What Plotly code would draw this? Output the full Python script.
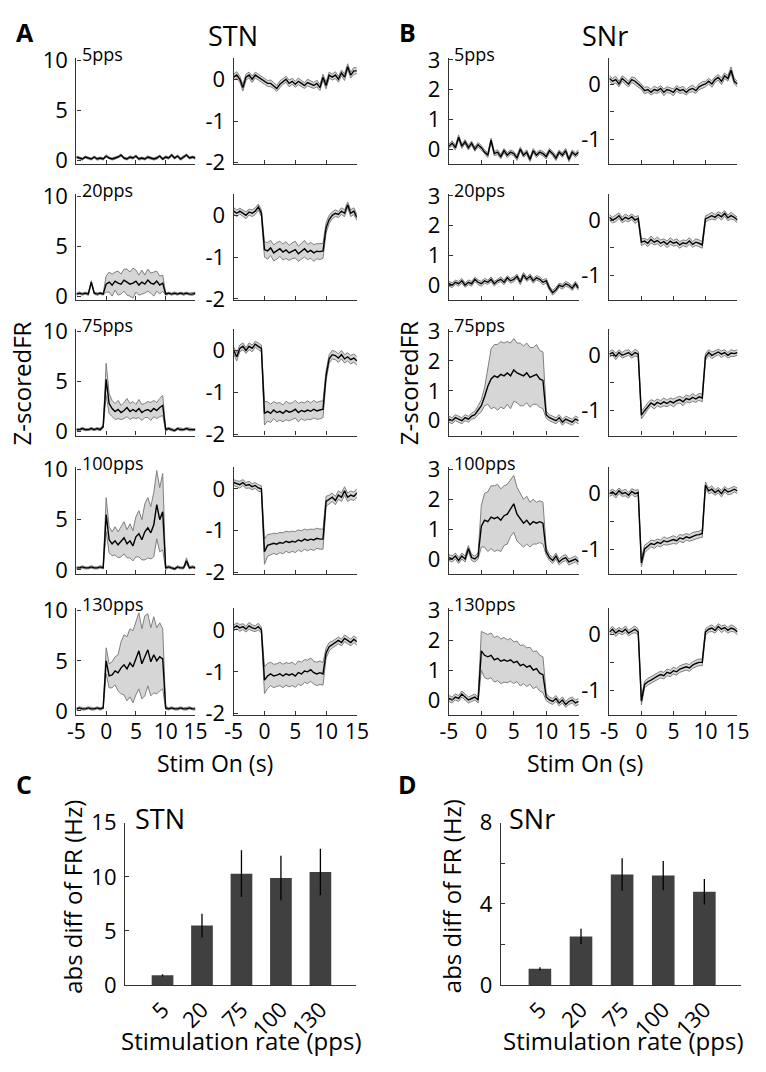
import plotly.graph_objects as go

# ---------------- data ----------------
TIME_S = [-5.0, -4.5, -4.0, -3.5, -3.0, -2.5, -2.0, -1.5, -1.0, -0.5,
          0.0, 0.5, 1.0, 1.5, 2.0, 2.5, 3.0, 3.5, 4.0, 4.5,
          5.0, 5.5, 6.0, 6.5, 7.0, 7.5, 8.0, 8.5, 9.0, 9.5,
          10.0, 10.5, 11.0, 11.5, 12.0, 12.5, 13.0, 13.5, 14.0, 14.5, 15.0]
RATES = ["5pps", "20pps", "75pps", "100pps", "130pps"]

# STN, neurons with increased rate (left column of A)
STN_UP_5 = [0.3,0.2,0.1,0.3,0.2,0.1,0.3,0.1,0.2,0.1,
            0.4,0.2,0.1,0.2,0.3,0.5,0.2,0.1,0.3,0.2,0.4,0.1,0.2,0.1,0.3,0.2,0.1,0.2,0.4,0.1,
            0.3,0.2,0.5,0.2,0.4,0.1,0.3,0.5,0.2,0.3,0.2]
STN_UP_5_SEM = [0.1,0.12,0.1,0.1,0.12,0.1,0.1,0.12,0.1,0.1,
                0.12,0.1,0.1,0.12,0.1,0.12,0.1,0.1,0.12,0.1,0.1,0.12,0.1,0.1,0.12,0.1,0.1,0.12,0.1,0.1,
                0.12,0.1,0.12,0.1,0.1,0.12,0.1,0.12,0.1,0.1,0.12]
STN_UP_20 = [0.2,0.3,0.2,0.3,0.2,1.4,0.3,0.2,0.3,0.2,
             1.2,1.4,1.1,1.5,1.3,1.2,1.6,1.4,1.2,1.3,1.5,1.1,1.4,1.2,1.6,1.3,1.2,1.5,1.1,1.3,
             0.2,0.3,0.2,0.3,0.2,0.3,0.2,0.3,0.2,0.2,0.3]
STN_UP_20_SEM = [0.1,0.12,0.1,0.1,0.12,0.15,0.1,0.12,0.1,0.1,
                 0.8,1.0,1.1,0.9,1.2,1.0,1.1,1.3,1.2,1.5,1.1,1.0,1.2,0.9,1.1,1.0,1.2,1.0,0.9,0.8,
                 0.12,0.1,0.1,0.12,0.1,0.1,0.12,0.1,0.1,0.12,0.1]
STN_UP_75 = [0.2,0.2,0.3,0.2,0.2,0.3,0.2,0.3,0.2,0.5,
             5.2,2.8,2.3,2.0,2.2,1.9,2.1,2.4,2.0,2.2,2.0,2.3,1.9,2.1,2.2,2.0,2.3,2.1,2.4,2.6,
             0.2,0.3,0.2,0.1,0.3,0.2,0.2,0.3,0.2,0.2,0.2]
STN_UP_75_SEM = [0.1,0.1,0.12,0.1,0.1,0.12,0.1,0.1,0.12,0.15,
                 1.6,1.0,0.8,0.8,0.9,0.7,0.8,0.9,0.8,0.8,0.7,0.9,0.8,0.7,0.8,0.9,0.8,0.8,0.9,1.0,
                 0.15,0.1,0.12,0.1,0.1,0.12,0.1,0.1,0.12,0.1,0.1]
STN_UP_100 = [0.2,0.2,0.3,0.2,0.2,0.3,0.2,0.2,0.3,0.2,
              5.5,3.0,2.6,2.9,2.5,2.8,3.2,2.6,2.9,2.4,3.3,3.6,3.0,3.8,4.2,3.7,4.5,6.5,5.0,5.8,
              0.2,0.3,0.2,0.1,0.3,0.2,0.2,0.9,0.2,0.3,0.2]
STN_UP_100_SEM = [0.1,0.1,0.12,0.1,0.1,0.12,0.1,0.1,0.12,0.1,
                  1.7,1.3,1.2,1.4,1.3,1.5,1.6,1.4,1.7,1.5,2.0,2.3,2.0,2.8,3.0,2.6,3.2,3.4,3.2,3.8,
                  0.15,0.12,0.1,0.1,0.12,0.1,0.1,0.3,0.1,0.12,0.1]
STN_UP_130 = [0.2,0.3,0.2,0.2,0.3,0.2,0.2,0.3,0.2,0.3,
              5.0,3.5,3.6,4.0,3.8,4.3,4.6,4.2,4.8,4.4,5.2,6.0,4.7,5.5,6.1,4.9,5.6,5.0,5.4,5.2,
              0.3,0.2,0.3,0.2,0.2,0.3,0.2,0.2,0.3,0.2,0.2]
STN_UP_130_SEM = [0.1,0.1,0.12,0.1,0.1,0.12,0.1,0.1,0.12,0.1,
                  1.3,1.2,1.3,1.4,1.8,2.6,3.0,3.2,3.4,3.6,3.6,3.8,3.5,4.0,3.6,3.4,3.8,3.3,3.4,3.0,
                  0.15,0.12,0.1,0.1,0.12,0.1,0.1,0.12,0.1,0.1,0.1]

# STN, neurons with decreased rate (right column of A)
STN_DOWN_5 = [0.05,0.1,0.0,-0.2,0.05,0.1,0.0,0.1,0.05,0.0,
              -0.05,-0.1,-0.1,-0.15,-0.22,-0.12,-0.05,0.0,-0.1,-0.05,-0.12,-0.05,-0.1,-0.15,-0.08,-0.12,-0.15,-0.1,-0.2,0.05,
              -0.15,0.1,0.05,0.1,0.0,0.15,0.05,0.3,0.1,0.2,0.2]
STN_DOWN_5_SEM = [0.07,0.08,0.07,0.08,0.07,0.07,0.08,0.07,0.07,0.08,
                  0.07,0.07,0.08,0.07,0.07,0.08,0.07,0.07,0.08,0.07,0.07,0.08,0.07,0.07,0.08,0.07,0.07,0.08,0.07,0.07,
                  0.08,0.07,0.07,0.08,0.07,0.07,0.08,0.07,0.07,0.08,0.07]
STN_DOWN_20 = [0.1,0.05,0.1,0.05,0.0,0.08,0.05,0.1,0.2,0.05,
               -0.82,-0.85,-0.78,-0.9,-0.85,-0.8,-0.88,-0.83,-0.9,-0.85,-0.82,-0.92,-0.86,-0.8,-0.88,-0.84,-0.9,-0.86,-0.87,-0.85,
               -0.3,-0.1,0.0,0.05,0.02,0.1,0.05,0.25,0.05,0.1,-0.05]
STN_DOWN_20_SEM = [0.08,0.08,0.07,0.08,0.08,0.07,0.08,0.08,0.07,0.08,
                   0.18,0.2,0.18,0.19,0.2,0.18,0.19,0.2,0.18,0.19,0.2,0.18,0.19,0.2,0.18,0.19,0.2,0.18,0.19,0.18,
                   0.12,0.1,0.08,0.08,0.07,0.08,0.08,0.07,0.08,0.08,0.07]
STN_DOWN_75 = [0.0,-0.15,0.05,0.1,0.0,0.1,0.05,0.15,0.1,0.05,
               -1.5,-1.45,-1.5,-1.42,-1.48,-1.45,-1.5,-1.43,-1.47,-1.45,-1.4,-1.48,-1.43,-1.46,-1.42,-1.45,-1.4,-1.44,-1.42,-1.4,
               -0.6,-0.2,-0.1,-0.12,-0.18,-0.1,-0.2,-0.15,-0.22,-0.18,-0.25]
STN_DOWN_75_SEM = [0.08,0.1,0.08,0.08,0.07,0.08,0.08,0.07,0.08,0.08,
                   0.28,0.23,0.22,0.2,0.22,0.21,0.2,0.22,0.21,0.2,0.21,0.22,0.2,0.21,0.22,0.2,0.21,0.2,0.21,0.2,
                   0.12,0.1,0.1,0.1,0.1,0.1,0.1,0.1,0.1,0.1,0.1]
STN_DOWN_100 = [0.15,0.12,0.1,0.15,0.08,0.1,0.05,0.08,0.02,0.0,
                -1.5,-1.35,-1.33,-1.3,-1.32,-1.28,-1.3,-1.25,-1.28,-1.25,-1.27,-1.22,-1.25,-1.2,-1.23,-1.2,-1.22,-1.18,-1.2,-1.2,
                -0.3,-0.25,-0.2,-0.28,-0.15,-0.2,-0.05,-0.2,-0.15,-0.18,-0.1]
STN_DOWN_100_SEM = [0.07,0.07,0.08,0.07,0.07,0.08,0.07,0.07,0.08,0.07,
                    0.3,0.26,0.25,0.24,0.25,0.24,0.25,0.24,0.25,0.24,0.25,0.24,0.25,0.24,0.25,0.24,0.25,0.24,0.24,0.24,
                    0.12,0.1,0.1,0.1,0.1,0.1,0.1,0.1,0.1,0.1,0.1]
STN_DOWN_130 = [0.05,0.1,0.05,0.08,0.02,0.1,0.05,0.03,0.08,0.0,
                -1.2,-1.1,-1.05,-1.1,-1.08,-1.05,-1.1,-1.05,-1.08,-1.05,-1.1,-1.02,-1.05,-0.98,-1.0,-0.95,-1.02,-1.05,-1.02,-1.05,
                -0.55,-0.4,-0.35,-0.3,-0.25,-0.3,-0.2,-0.25,-0.3,-0.22,-0.28]
STN_DOWN_130_SEM = [0.07,0.07,0.08,0.07,0.07,0.08,0.07,0.07,0.08,0.07,
                    0.32,0.3,0.28,0.28,0.27,0.28,0.28,0.27,0.28,0.28,0.27,0.28,0.28,0.27,0.28,0.28,0.27,0.28,0.28,0.27,
                    0.12,0.1,0.08,0.08,0.08,0.08,0.08,0.08,0.08,0.08,0.08]

# SNr, neurons with increased rate (left column of B)
SNR_UP_5 = [0.1,0.2,0.05,0.4,0.1,0.25,0.05,0.2,0.0,0.15,
            0.05,-0.1,-0.2,0.3,-0.15,-0.1,-0.25,-0.05,-0.2,-0.1,-0.15,-0.3,0.0,-0.2,-0.1,-0.35,-0.05,-0.2,-0.1,-0.15,
            -0.25,-0.05,-0.15,-0.3,-0.1,-0.2,-0.05,-0.35,-0.1,-0.2,-0.1]
SNR_UP_5_SEM = [0.07,0.08,0.07,0.08,0.07,0.07,0.08,0.07,0.07,0.08,
                0.07,0.07,0.08,0.07,0.07,0.08,0.07,0.07,0.08,0.07,0.07,0.08,0.07,0.07,0.08,0.07,0.07,0.08,0.07,0.07,
                0.08,0.07,0.07,0.08,0.07,0.07,0.08,0.07,0.07,0.08,0.07]
SNR_UP_20 = [0.05,0.0,0.1,0.05,0.15,0.0,0.1,0.05,0.2,0.1,
             0.05,0.15,0.1,0.2,0.05,0.15,0.2,0.1,0.25,0.15,0.2,0.3,0.1,0.35,0.2,0.3,0.15,0.25,0.2,0.1,
             0.15,-0.1,-0.25,-0.15,0.0,-0.05,0.05,0.0,-0.1,0.05,-0.1]
SNR_UP_20_SEM = [0.08,0.08,0.07,0.08,0.08,0.07,0.08,0.08,0.07,0.08,
                 0.08,0.08,0.07,0.08,0.08,0.07,0.08,0.08,0.07,0.08,0.08,0.07,0.08,0.08,0.07,0.08,0.08,0.07,0.08,0.08,
                 0.08,0.07,0.08,0.08,0.07,0.08,0.08,0.07,0.08,0.08,0.07]
SNR_UP_75 = [0.05,0.0,0.1,0.05,0.0,0.1,0.05,0.15,0.2,0.35,
             0.5,0.8,1.15,1.4,1.5,1.45,1.55,1.5,1.6,1.5,1.7,1.6,1.55,1.5,1.6,1.45,1.5,1.55,1.4,1.35,
             0.2,0.1,0.05,0.0,0.1,-0.05,0.05,0.0,-0.05,0.05,0.0]
SNR_UP_75_SEM = [0.1,0.1,0.1,0.1,0.1,0.1,0.1,0.1,0.12,0.15,
                 0.2,0.3,0.6,1.0,1.05,1.1,1.1,1.1,1.05,1.1,1.05,1.0,1.05,1.0,1.0,1.0,0.95,1.0,0.95,0.95,
                 0.12,0.1,0.1,0.1,0.1,0.1,0.1,0.1,0.1,0.1,0.1]
SNR_UP_100 = [0.05,0.0,0.1,-0.05,0.1,0.0,0.35,0.05,0.0,0.1,
              1.1,1.3,1.25,1.4,1.35,1.4,1.3,1.45,1.5,1.7,1.85,1.5,1.35,1.2,1.3,1.15,1.25,1.2,1.25,1.2,
              0.25,0.05,-0.05,0.1,-0.1,0.0,0.05,-0.1,-0.05,0.0,-0.1]
SNR_UP_100_SEM = [0.1,0.1,0.1,0.1,0.1,0.1,0.1,0.1,0.1,0.1,
                  0.7,0.9,1.0,1.05,1.1,1.1,1.05,1.0,1.0,0.95,0.95,0.9,0.85,0.8,0.8,0.75,0.75,0.7,0.7,0.7,
                  0.12,0.1,0.1,0.1,0.1,0.1,0.1,0.1,0.1,0.1,0.1]
SNR_UP_130 = [0.05,0.0,0.1,0.05,0.2,0.1,0.0,0.05,0.1,0.0,
              1.65,1.5,1.45,1.5,1.35,1.4,1.3,1.35,1.3,1.35,1.25,1.3,1.15,1.2,1.1,1.15,1.0,1.05,0.9,0.85,
              0.1,0.0,-0.05,0.05,-0.1,0.0,-0.15,-0.05,0.0,-0.1,-0.05]
SNR_UP_130_SEM = [0.1,0.1,0.1,0.1,0.1,0.1,0.1,0.1,0.1,0.1,
                  0.65,0.75,0.75,0.75,0.75,0.75,0.75,0.75,0.72,0.72,0.7,0.68,0.68,0.65,0.65,0.62,0.62,0.6,0.6,0.6,
                  0.12,0.1,0.1,0.1,0.1,0.1,0.1,0.1,0.1,0.1,0.1]

# SNr, neurons with decreased rate (right column of B)
SNR_DOWN_5 = [0.1,0.05,0.08,0.0,0.1,0.05,0.0,0.08,0.05,0.0,
              -0.05,-0.12,-0.1,-0.15,-0.1,-0.12,-0.08,-0.15,-0.1,-0.12,-0.15,-0.08,-0.12,-0.1,-0.15,-0.1,-0.08,-0.12,-0.05,-0.02,
              0.0,0.05,0.0,0.08,0.12,0.05,0.15,0.1,0.25,0.05,0.0]
SNR_DOWN_5_SEM = [0.05,0.05,0.06,0.05,0.05,0.06,0.05,0.05,0.06,0.05,
                  0.05,0.06,0.05,0.05,0.06,0.05,0.05,0.06,0.05,0.05,0.06,0.05,0.05,0.06,0.05,0.05,0.06,0.05,0.05,0.06,
                  0.05,0.05,0.06,0.05,0.05,0.06,0.05,0.05,0.06,0.05,0.05]
SNR_DOWN_20 = [0.05,0.0,0.03,0.08,0.0,0.05,0.02,0.06,0.0,0.03,
               -0.4,-0.38,-0.42,-0.35,-0.4,-0.37,-0.42,-0.39,-0.44,-0.38,-0.42,-0.4,-0.45,-0.41,-0.43,-0.38,-0.44,-0.4,-0.42,-0.45,
               0.02,0.05,0.08,0.05,0.1,0.06,0.12,0.04,0.08,0.05,0.0]
SNR_DOWN_20_SEM = [0.05,0.05,0.06,0.05,0.05,0.06,0.05,0.05,0.06,0.05,
                   0.06,0.05,0.06,0.06,0.05,0.06,0.06,0.05,0.06,0.06,0.05,0.06,0.06,0.05,0.06,0.06,0.05,0.06,0.06,0.06,
                   0.06,0.05,0.06,0.05,0.05,0.06,0.05,0.05,0.06,0.05,0.05]
SNR_DOWN_75 = [0.02,0.05,-0.02,0.05,0.0,0.03,0.05,0.0,0.05,0.02,
               -1.08,-1.0,-0.92,-0.86,-0.9,-0.85,-0.88,-0.84,-0.87,-0.83,-0.86,-0.82,-0.8,-0.84,-0.78,-0.8,-0.76,-0.79,-0.75,-0.77,
               -0.03,0.05,0.0,0.03,0.06,0.02,0.05,0.0,0.04,0.03,0.05]
SNR_DOWN_75_SEM = [0.05,0.05,0.06,0.05,0.05,0.06,0.05,0.05,0.06,0.05,
                   0.07,0.07,0.06,0.06,0.07,0.06,0.06,0.07,0.06,0.06,0.07,0.06,0.06,0.07,0.06,0.06,0.07,0.06,0.06,0.07,
                   0.06,0.05,0.06,0.05,0.05,0.06,0.05,0.05,0.06,0.05,0.05]
SNR_DOWN_100 = [0.0,0.03,-0.02,0.05,0.0,0.02,-0.03,0.04,0.0,0.02,
                -1.25,-1.0,-0.95,-0.9,-0.92,-0.88,-0.9,-0.85,-0.87,-0.85,-0.83,-0.85,-0.8,-0.82,-0.78,-0.8,-0.77,-0.75,-0.74,-0.72,
                0.15,0.05,0.08,0.02,0.06,0.0,0.08,0.03,0.05,0.08,0.05]
SNR_DOWN_100_SEM = [0.05,0.05,0.06,0.05,0.05,0.06,0.05,0.05,0.06,0.05,
                    0.07,0.07,0.06,0.06,0.07,0.06,0.06,0.07,0.06,0.06,0.07,0.06,0.06,0.07,0.06,0.06,0.07,0.06,0.06,0.07,
                    0.06,0.05,0.06,0.05,0.05,0.06,0.05,0.05,0.06,0.05,0.05]
SNR_DOWN_130 = [0.05,0.1,0.03,0.08,0.05,0.1,0.03,0.07,0.1,0.05,
                -1.2,-0.9,-0.85,-0.82,-0.78,-0.75,-0.72,-0.74,-0.68,-0.7,-0.65,-0.67,-0.62,-0.6,-0.58,-0.6,-0.55,-0.52,-0.5,-0.5,
                0.05,0.1,0.12,0.08,0.15,0.1,0.13,0.08,0.12,0.1,0.05]
SNR_DOWN_130_SEM = [0.05,0.05,0.06,0.05,0.05,0.06,0.05,0.05,0.06,0.05,
                    0.07,0.06,0.06,0.06,0.06,0.06,0.06,0.06,0.06,0.06,0.06,0.06,0.06,0.06,0.06,0.06,0.06,0.06,0.06,0.06,
                    0.06,0.05,0.06,0.05,0.05,0.06,0.05,0.05,0.06,0.05,0.05]

# bar charts (C, D)
RATE_LABELS = ["5", "20", "75", "100", "130"]
RATE_POS = [1, 2, 3, 4, 5]
STN_ABS_DIFF = [0.9, 5.5, 10.3, 9.9, 10.45]
STN_ABS_DIFF_ERR = [0.1, 1.1, 2.15, 2.05, 2.15]
SNR_ABS_DIFF = [0.8, 2.4, 5.45, 5.4, 4.6]
SNR_ABS_DIFF_ERR = [0.08, 0.38, 0.8, 0.72, 0.63]

PANELS = [
    [(STN_UP_5, STN_UP_5_SEM), (STN_DOWN_5, STN_DOWN_5_SEM), (SNR_UP_5, SNR_UP_5_SEM), (SNR_DOWN_5, SNR_DOWN_5_SEM)],
    [(STN_UP_20, STN_UP_20_SEM), (STN_DOWN_20, STN_DOWN_20_SEM), (SNR_UP_20, SNR_UP_20_SEM), (SNR_DOWN_20, SNR_DOWN_20_SEM)],
    [(STN_UP_75, STN_UP_75_SEM), (STN_DOWN_75, STN_DOWN_75_SEM), (SNR_UP_75, SNR_UP_75_SEM), (SNR_DOWN_75, SNR_DOWN_75_SEM)],
    [(STN_UP_100, STN_UP_100_SEM), (STN_DOWN_100, STN_DOWN_100_SEM), (SNR_UP_100, SNR_UP_100_SEM), (SNR_DOWN_100, SNR_DOWN_100_SEM)],
    [(STN_UP_130, STN_UP_130_SEM), (STN_DOWN_130, STN_DOWN_130_SEM), (SNR_UP_130, SNR_UP_130_SEM), (SNR_DOWN_130, SNR_DOWN_130_SEM)],
]

# ---------------- layout constants ----------------
W, H = 766, 1072
FONT = "Open Sans"
AX = "#333333"
TICK_SIZE = 22
XTICK_SIZE = 21
TITLE_SIZE = 24


def fx(px):
    return px / W


def fy(py):
    return 1 - py / H


COLS_X = [(69.3, 191.7), (231.0, 357.7), (452.3, 585.7), (617.3, 749.0)]
ROWS_Y = [(42.7, 152.3), (182.7, 292.3), (321.7, 431.7), (464.0, 574.0), (609.3, 719.0)]
COL_YRANGE = [[-0.4, 10.25], [-2.03, 0.52], [-0.5, 3.08], [-1.45, 0.48]]
COL_YTICKS = [[0, 5, 10], [-2, -1, 0], [0, 1, 2, 3], [-1, -0.5, 0]]
COL_YTEXT = [["0", "5", "10"], ["-2", "-1", "0"], ["0", "1", "2", "3"], ["-1", "", "0"]]
XTICKS = [-5, 0, 5, 10, 15]
XTEXT = ["-5", "0", "5", "10", "15"]

fig = go.Figure()
layout = {}


def axis_common(size=TICK_SIZE):
    return dict(showline=True, linecolor=AX, linewidth=1.3, ticks="inside", ticklen=4,
                tickcolor=AX, tickwidth=1.2, showgrid=False, zeroline=False,
                tickfont=dict(family=FONT, size=size, color="black"), fixedrange=True)


for r in range(5):
    for c in range(4):
        n = r * 4 + c + 1
        sfx = "" if n == 1 else str(n)
        xref, yref = "x" + sfx, "y" + sfx
        mean, sem = PANELS[r][c]
        lower = [m - e for m, e in zip(mean, sem)]
        upper = [m + e for m, e in zip(mean, sem)]
        fig.add_trace(go.Scatter(x=TIME_S, y=lower, mode="lines", line=dict(color="#7f7f7f", width=1),
                                 xaxis=xref, yaxis=yref, showlegend=False, hoverinfo="skip"))
        fig.add_trace(go.Scatter(x=TIME_S, y=upper, mode="lines", line=dict(color="#7f7f7f", width=1),
                                 fill="tonexty", fillcolor="#d6d6d6",
                                 xaxis=xref, yaxis=yref, showlegend=False, hoverinfo="skip"))
        fig.add_trace(go.Scatter(x=TIME_S, y=mean, mode="lines", line=dict(color="black", width=1.4),
                                 xaxis=xref, yaxis=yref, showlegend=False))
        xa = axis_common(XTICK_SIZE)
        xa.update(domain=[fx(COLS_X[c][0]), fx(COLS_X[c][1])], anchor=yref, range=[-5, 15],
                  tickvals=XTICKS, ticktext=XTEXT, showticklabels=(r == 4), ticklabelstandoff=-2)
        ya = axis_common()
        ya.update(domain=[fy(ROWS_Y[r][1]), fy(ROWS_Y[r][0])], anchor=xref, range=COL_YRANGE[c],
                  tickvals=COL_YTICKS[c], ticktext=COL_YTEXT[c], ticklabelstandoff=3)
        layout["xaxis" + sfx] = xa
        layout["yaxis" + sfx] = ya

# bar charts
BAR_X = [(119.3, 356.7), (505.7, 753.0)]
BAR_Y = (830.0, 997.0)
BAR_DATA = [(STN_ABS_DIFF, STN_ABS_DIFF_ERR, [0, 15], [0, 5, 10, 15], ["0", "5", "10", "15"]),
            (SNR_ABS_DIFF, SNR_ABS_DIFF_ERR, [0, 8], [0, 2, 4, 6, 8], ["0", "", "4", "", "8"])]
for k in range(2):
    n = 21 + k
    xref, yref = "x%d" % n, "y%d" % n
    vals, errs, yr, ytv, ytt = BAR_DATA[k]
    fig.add_trace(go.Bar(x=RATE_POS, y=vals, width=0.55, marker=dict(color="#404040", line=dict(width=0)),
                         error_y=dict(type="data", array=errs, visible=True, color="black", thickness=1.3, width=0),
                         xaxis=xref, yaxis=yref, showlegend=False))
    xa = axis_common()
    xa.update(domain=[fx(BAR_X[k][0]), fx(BAR_X[k][1])], anchor=yref, range=[0.05, 5.9],
              tickvals=RATE_POS, ticktext=RATE_LABELS, ticks="", tickangle=-45, ticklabelstandoff=2)
    ya = axis_common()
    ya.update(domain=[fy(BAR_Y[1]), fy(BAR_Y[0])], anchor=xref, range=yr,
              tickvals=ytv, ticktext=ytt, ticklabelstandoff=3)
    layout["xaxis%d" % n] = xa
    layout["yaxis%d" % n] = ya

ann = []


def text(x, y, s, size, bold=False, xanchor="center", angle=0):
    ann.append(dict(x=fx(x), y=fy(y), xref="paper", yref="paper", text=("<b>%s</b>" % s) if bold else s,
                    showarrow=False, xanchor=xanchor, yanchor="middle", textangle=angle,
                    font=dict(family=FONT, size=size, color="black")))


text(16, 16, "A", 25, bold=True)
text(410, 16, "B", 25, bold=True)
text(15, 790, "C", 25, bold=True)
text(410, 790, "D", 25, bold=True)
text(230, 20, "STN", 27)
text(613, 20, "SNr", 27)
for r in range(5):
    top = ROWS_Y[r][0]
    text(72.5, top - 4, RATES[r], 18, xanchor="left")
    text(455, top - 4, RATES[r], 18, xanchor="left")
text(12.5, 378, "Z-scoredFR", TITLE_SIZE, angle=-90)
text(411, 378, "Z-scoredFR", TITLE_SIZE, angle=-90)
text(212, 768, "Stim On (s)", 23)
text(592, 768, "Stim On (s)", 23)
text(127, 826, "STN", 27, xanchor="left")
text(512, 826, "SNr", 27, xanchor="left")
text(65, 906, "abs diff of FR (Hz)", TITLE_SIZE, angle=-90)
text(455, 906, "abs diff of FR (Hz)", TITLE_SIZE, angle=-90)
text(239, 1054, "Stimulation rate (pps)", TITLE_SIZE)
text(631, 1054, "Stimulation rate (pps)", TITLE_SIZE)

fig.update_layout(width=W, height=H, margin=dict(l=0, r=0, t=0, b=0), paper_bgcolor="white",
                  plot_bgcolor="white", font=dict(family=FONT, color="black"), annotations=ann,
                  showlegend=False, **layout)
fig.write_html("out.html", config={"responsive": False, "displayModeBar": False},
               post_script="document.body.style.margin='0';document.body.style.overflow='hidden';")
